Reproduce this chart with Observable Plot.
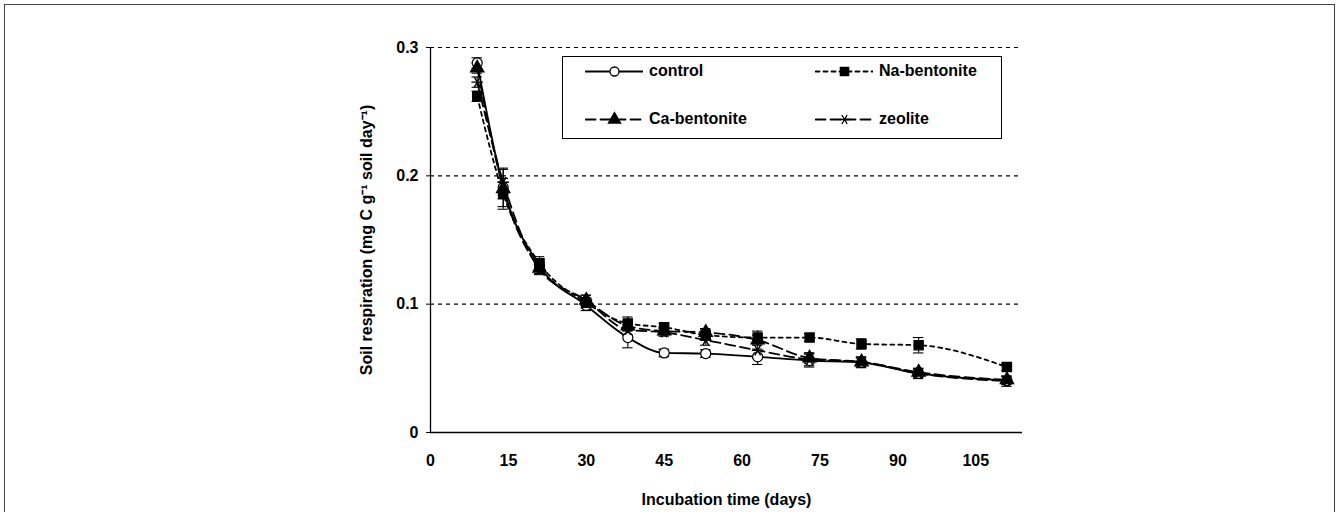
<!DOCTYPE html>
<html>
<head>
<meta charset="utf-8">
<script src="https://cdn.jsdelivr.net/npm/d3@7"></script>
<script src="https://cdn.jsdelivr.net/npm/@observablehq/plot@0.6"></script>
<style>
  html, body { margin: 0; padding: 0; background: #fff; }
  #wrap { position: relative; width: 1340px; height: 512px; overflow: hidden; font-family: "Liberation Sans", Arial, sans-serif; }
  #frame { position: absolute; left: 4px; top: 4px; width: 1331px; height: 540px; border: 1px solid #444; box-sizing: border-box; }
  #chart { position: absolute; left: 0; top: 0; }
  #legend { position: absolute; left: 562px; top: 56px; width: 440px; height: 83px; border: 1.5px solid #000; background: #fff; box-sizing: border-box; }
  .item { position: absolute; display: flex; align-items: center; font-weight: bold; font-size: 16px; color: #000; }
  .item svg { margin-right: 6px; }
</style>
</head>
<body>
<div id="wrap">
  <div id="frame"></div>
  <div id="chart"></div>
  <div id="legend"></div>
</div>
<script>
// ---- data ----
const days = [9, 14, 21, 30, 38, 45, 53, 63, 73, 83, 94, 111];
const seriesNames = ["control", "Na-bentonite", "Ca-bentonite", "zeolite"];
const control     = [0.288, 0.191, 0.130, 0.099, 0.074, 0.062, 0.0615, 0.059, 0.056, 0.0545, 0.046, 0.0405];
const naBentonite = [0.262, 0.186, 0.132, 0.101, 0.085, 0.082, 0.076, 0.074, 0.074, 0.069, 0.068, 0.051];
const caBentonite = [0.284, 0.190, 0.128, 0.103, 0.083, 0.079, 0.078, 0.072, 0.058, 0.055, 0.047, 0.041];
const zeolite     = [0.273, 0.195, 0.127, 0.103, 0.080, 0.078, 0.072, 0.064, 0.057, 0.055, 0.046, 0.040];
const controlSd   = [0.004, 0.015, 0.004, 0.004, 0.008, 0.003, 0.003, 0.006, 0.005, 0.004, 0.003, 0.003];
const naSd        = [0.004, 0.012, 0.005, 0.004, 0.005, 0.003, 0.004, 0.005, 0.003, 0.004, 0.006, 0.003];
const caSd        = [0.004, 0.008, 0.004, 0.004, 0.004, 0.003, 0.003, 0.004, 0.004, 0.003, 0.003, 0.003];
const zeoliteSd   = [0.004, 0.010, 0.004, 0.004, 0.004, 0.003, 0.004, 0.006, 0.005, 0.004, 0.004, 0.004];
const xTicks = [0, 15, 30, 45, 60, 75, 90, 105];
const xTickLabels = ["0", "15", "30", "45", "60", "75", "90", "105"];
const yTicks = [0, 0.1, 0.2, 0.3];
const yTickLabels = ["0", "0.1", "0.2", "0.3"];
const gridValues = [0.1, 0.2, 0.3];
const xTitle = "Incubation time (days)";
const yTitle = "Soil respiration (mg C g\u207B\u00B9 soil day\u207B\u00B9)";

// ---- styles per series ----
const styles = {
  "control":      {dash: null,   symbol: "circle",   fill: "white", r: 5},
  "Na-bentonite": {dash: "4,4",  symbol: "square",   fill: "black", r: 5.2},
  "Ca-bentonite": {dash: "10,5", symbol: "triangle", fill: "black", r: 5},
  "zeolite":      {dash: "10,5", symbol: "asterisk", fill: "none",  r: 5.5}
};

const valuesBySeries = [control, naBentonite, caBentonite, zeolite];
const sdBySeries = [controlSd, naSd, caSd, zeoliteSd];
const rows = [];
seriesNames.forEach((s, i) => {
  days.forEach((d, j) => rows.push({series: s, day: d, value: valuesBySeries[i][j], sd: sdBySeries[i][j]}));
});

const marks = [
  Plot.ruleY(gridValues, {stroke: "#000", strokeWidth: 1.1, strokeDasharray: "4,4"}),
  Plot.axisY({ticks: yTicks, tickFormat: (d) => yTickLabels[yTicks.indexOf(d)], tickSize: 4, tickPadding: 8,
              fontSize: 16, label: yTitle, labelAnchor: "center", labelArrow: "none", labelOffset: 70}),
  Plot.axisX({ticks: xTicks, tickFormat: (d) => xTickLabels[xTicks.indexOf(d)], tickSize: 0, tickPadding: 22,
              fontSize: 16, label: xTitle, labelAnchor: "center", labelArrow: "none", labelOffset: 72}),
  Plot.ruleX([0], {stroke: "#000", strokeWidth: 1.3}),
  Plot.ruleY([0], {stroke: "#000", strokeWidth: 1.3})
];

seriesNames.forEach((s) => {
  const st = styles[s];
  const data = rows.filter(r => r.series === s);
  marks.push(Plot.line(data, {x: "day", y: "value", curve: "monotone-x", stroke: "#000", strokeWidth: 1.8,
                              strokeDasharray: st.dash}));
  marks.push(Plot.ruleX(data, {x: "day", y1: d => d.value - d.sd, y2: d => d.value + d.sd, stroke: "#000", strokeWidth: 1.1}));
  marks.push(Plot.ruleY(data, {y: d => d.value - d.sd, x1: d => d.day - 1, x2: d => d.day + 1, stroke: "#000", strokeWidth: 1.1}));
  marks.push(Plot.ruleY(data, {y: d => d.value + d.sd, x1: d => d.day - 1, x2: d => d.day + 1, stroke: "#000", strokeWidth: 1.1}));
});
seriesNames.forEach((s) => {
  const st = styles[s];
  const data = rows.filter(r => r.series === s);
  marks.push(Plot.dot(data, {x: "day", y: "value", symbol: st.symbol, r: st.r, fill: st.fill,
                             stroke: "#000", strokeWidth: s === "zeolite" ? 1.4 : 1.2,
                             rotate: s === "zeolite" ? 90 : 0}));
});

const chart = Plot.plot({
  width: 1340,
  height: 512,
  marginLeft: 430,
  marginRight: 318,
  marginTop: 47,
  marginBottom: 80,
  x: {domain: [0, 114]},
  y: {domain: [0, 0.3]},
  style: {fontFamily: "'Liberation Sans', Arial, sans-serif", fontWeight: "bold", fontSize: "16px", color: "#000", background: "transparent"},
  marks
});
document.getElementById("chart").appendChild(chart);

// ---- legend ----
const legend = document.getElementById("legend");
const legendPos = [
  {s: "control", left: 22, top: 0},
  {s: "Na-bentonite", left: 252, top: 0},
  {s: "Ca-bentonite", left: 22, top: 48},
  {s: "zeolite", left: 252, top: 48}
];
legendPos.forEach(({s, left, top}) => {
  const st = styles[s];
  const item = document.createElement("div");
  item.className = "item";
  item.style.left = left + "px";
  item.style.top = (top + 2) + "px";
  item.style.height = "24px";
  const sample = Plot.plot({
    width: 58, height: 20, margin: 0,
    x: {domain: [0, 2], axis: null}, y: {domain: [0, 1], axis: null},
    style: {background: "transparent"},
    marks: [
      Plot.line([{x: 0, y: 0.5, s}, {x: 2, y: 0.5, s}], {x: "x", y: "y", stroke: "#000", strokeWidth: 1.8, strokeDasharray: st.dash}),
      Plot.dot([{x: 1, y: 0.5, s}], {x: "x", y: "y", symbol: st.symbol, r: st.r * 0.9, fill: st.fill, stroke: "#000",
                                    strokeWidth: 1.3, rotate: s === "zeolite" ? 90 : 0})
    ]
  });
  item.appendChild(sample);
  const label = document.createElement("span");
  label.textContent = s;
  item.appendChild(label);
  legend.appendChild(item);
});
</script>
</body>
</html>
